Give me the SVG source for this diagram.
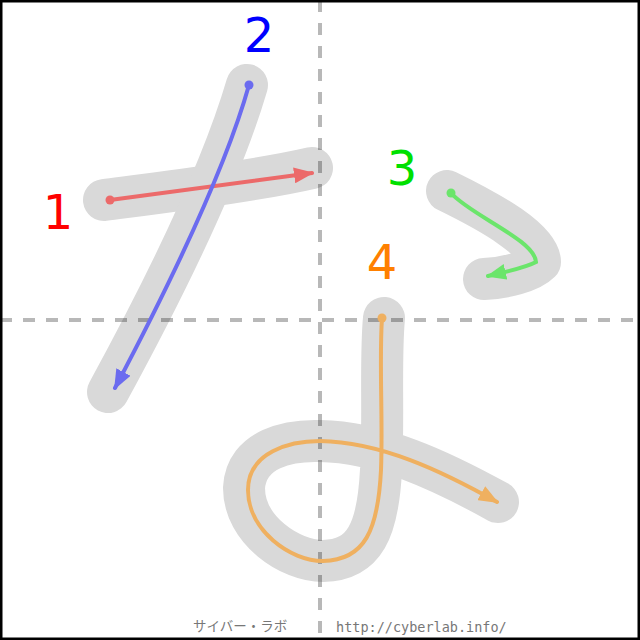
<svg xmlns="http://www.w3.org/2000/svg" width="640" height="640" viewBox="0 0 640 640">
<style>
.bg{fill:none;stroke:#d9d9d9;stroke-width:42;stroke-linecap:round;stroke-linejoin:round}
.grid{stroke:#000;stroke-opacity:0.28;stroke-width:4;stroke-dasharray:12 11}
.s{fill:none;stroke-width:4;stroke-linecap:round}
.num{font-family:"DejaVu Sans",sans-serif;font-size:48px;text-anchor:middle}
.foot{fill:#777;font-size:13.5px}
</style>
<defs>
<marker id="ar" viewBox="0 0 20 16" refX="18" refY="8" markerWidth="20" markerHeight="16" markerUnits="userSpaceOnUse" orient="auto"><path d="M0,0 L20,8 L0,16 Z" fill="#ec6a6a"/></marker>
<marker id="ab" viewBox="0 0 20 16" refX="18" refY="8" markerWidth="20" markerHeight="16" markerUnits="userSpaceOnUse" orient="auto"><path d="M0,0 L20,8 L0,16 Z" fill="#6b6bef"/></marker>
<marker id="ag" viewBox="0 0 20 16" refX="18" refY="8" markerWidth="20" markerHeight="16" markerUnits="userSpaceOnUse" orient="auto"><path d="M0,0 L20,8 L0,16 Z" fill="#6be56b"/></marker>
<marker id="ao" viewBox="0 0 20 16" refX="18" refY="8" markerWidth="20" markerHeight="16" markerUnits="userSpaceOnUse" orient="auto"><path d="M0,0 L20,8 L0,16 Z" fill="#efb060"/></marker>
</defs>
<rect x="0" y="0" width="640" height="640" fill="#fff"/>
<g id="shape">
<path class="bg" d="M104,200 C180,190 260,180 312,168"/>
<path class="bg" d="M247,85 C225,160 180,260 108,392"/>
<path class="bg" d="M447,191 C490,212 540,240 540,262 C530,272 505,278 484,279"/>
<path class="bg" d="M384,318 C380,360 384,420 381,470 C378,530 365,560 323,561 C290,561 244,530 244,488 C246,448 290,440 320,441 C380,442 440,470 498,502"/>
</g>
<g id="grid">
<line class="grid" x1="320" y1="0" x2="320" y2="640"/>
<line class="grid" x1="0" y1="320" x2="640" y2="320"/>
</g>
<g id="connectors">
<g id="stroke1">
<circle cx="110" cy="200" r="4.5" fill="#ec6a6a"/>
<path class="s" stroke="#ec6a6a" d="M110,200 L312,173" marker-end="url(#ar)"/>
</g>
<g id="stroke2">
<circle cx="249" cy="85" r="4.5" fill="#6b6bef"/>
<path class="s" stroke="#6b6bef" d="M249,85 C228,160 180,265 115,388" marker-end="url(#ab)"/>
</g>
<g id="stroke3">
<circle cx="451" cy="193" r="4.5" fill="#6be56b"/>
<path class="s" stroke="#6be56b" d="M451,193 C470,215 535,240 536,262 C525,268 505,272 488,276" marker-end="url(#ag)"/>
</g>
<g id="stroke4">
<circle cx="382" cy="318" r="4.5" fill="#efb060"/>
<path class="s" stroke="#efb060" d="M382,318 C379,360 383,420 381,470 C378,530 365,560 323,561 C290,561 248,530 248,490 C248,452 290,441 320,441 C380,442 440,470 497,502" marker-end="url(#ao)"/>
</g>
</g>
<g id="labels">
<text class="num" x="58" y="229" fill="#ff0000">1</text>
<text class="num" x="259" y="52" fill="#0000ff">2</text>
<text class="num" x="402" y="185" fill="#00e000">3</text>
<text class="num" x="382" y="279" fill="#ff8000">4</text>
</g>
<g id="footer">
<text class="foot" x="193" y="631" font-family="'Noto Sans CJK JP',sans-serif">サイバー・ラボ</text>
<text class="foot" x="336" y="632" font-family="'DejaVu Sans Mono',monospace">http://cyberlab.info/</text>
</g>
<rect x="1" y="1" width="638" height="638" fill="none" stroke="#000" stroke-width="3"/>
</svg>
